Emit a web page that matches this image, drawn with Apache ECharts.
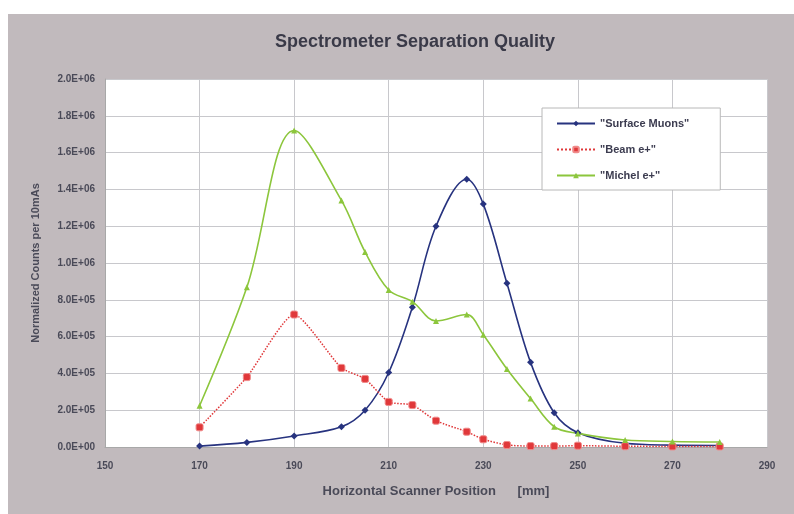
<!DOCTYPE html>
<html>
<head>
<meta charset="utf-8">
<script src="https://cdn.jsdelivr.net/npm/echarts@6/dist/echarts.min.js"></script>
<style>
  html, body { margin: 0; padding: 0; background: #ffffff; }
  #chart { width: 794px; height: 514px; }
</style>
</head>
<body>
<div id="chart"></div>
<script>
// Scanner positions [mm] shared by all three measurements
const positions = [170, 180, 190, 200, 205, 210, 215, 220, 226.5, 230, 235, 240, 245, 250, 260, 270, 280];

// Normalized counts per 10 mAs
const surfaceMuons = [5000, 25000, 60000, 110000, 200000, 405000, 760000, 1200000, 1455000, 1320000, 890000, 460000, 186000, 78000, 20000, 10000, 8000];
const beamPositrons = [107000, 380000, 720000, 430000, 370000, 245000, 228000, 143000, 83000, 42000, 11000, 5000, 5000, 7000, 4000, 3000, 3000];
const michelPositrons = [224000, 868000, 1720000, 1340000, 1060000, 853000, 790000, 685000, 720000, 610000, 424000, 263000, 110000, 74000, 38000, 30000, 27000];

const seriesNames = ['"Surface Muons"', '"Beam e+"', '"Michel e+"'];
const chartTitle = 'Spectrometer Separation Quality';
const xAxisTitle = 'Horizontal Scanner Position      [mm]';
const yAxisTitle = 'Normalized Counts per 10mAs';

const FONT = '"Liberation Sans", Arial, sans-serif';

function pairs(ys) {
  return positions.map((x, i) => [x, ys[i]]);
}

// 2.0E+05 style scientific labels
function sci(v) {
  const s = Number(v).toExponential(1);
  const [m, e] = s.split('e');
  const sign = e[0] === '-' ? '-' : '+';
  const digits = e.replace(/[+-]/, '').padStart(2, '0');
  return m + 'E' + sign + digits;
}

const chart = echarts.init(document.getElementById('chart'), null, { renderer: 'canvas' });

chart.setOption({
  backgroundColor: '#ffffff',
  animation: false,
  graphic: [{
    type: 'rect',
    z: -10,
    silent: true,
    shape: { x: 8, y: 14, width: 786, height: 500 },
    style: { fill: '#c1babd' }
  }],
  title: {
    text: chartTitle,
    left: 270,
    top: 28,
    textStyle: { fontFamily: FONT, fontSize: 18, fontWeight: 'bold', color: '#3a3a48' }
  },
  legend: {
    orient: 'vertical',
    left: 542,
    top: 108,
    padding: [10, 31, 9, 14],
    itemWidth: 38,
    itemHeight: 7,
    itemGap: 15,
    backgroundColor: '#ffffff',
    borderColor: '#b8b8b8',
    borderWidth: 1,
    textStyle: { fontFamily: FONT, fontSize: 11, fontWeight: 'bold', color: '#3c3c50' },
    data: seriesNames
  },
  grid: {
    left: 105,
    right: 27,
    top: 79,
    bottom: 67,
    show: true,
    backgroundColor: '#ffffff',
    borderWidth: 0
  },
  xAxis: {
    type: 'value',
    min: 150,
    max: 290,
    interval: 20,
    name: xAxisTitle,
    nameLocation: 'middle',
    nameGap: 38,
    nameTextStyle: { fontFamily: FONT, fontSize: 13, fontWeight: 'bold', color: '#4a4a58' },
    axisLine: { show: true, lineStyle: { color: '#a8a8a8', width: 1 } },
    axisTick: { show: false },
    axisLabel: { fontFamily: FONT, fontSize: 10, fontWeight: 'bold', color: '#4a4a58', margin: 14 },
    splitLine: { show: true, lineStyle: { color: '#c8c8cc', width: 1 } }
  },
  yAxis: {
    type: 'value',
    min: 0,
    max: 2000000,
    interval: 200000,
    name: yAxisTitle,
    nameLocation: 'middle',
    nameGap: 64,
    nameTextStyle: { fontFamily: FONT, fontSize: 11, fontWeight: 'bold', color: '#4a4a58' },
    axisLine: { show: true, lineStyle: { color: '#a8a8a8', width: 1 } },
    axisTick: { show: false },
    axisLabel: {
      fontFamily: FONT, fontSize: 10, fontWeight: 'bold', color: '#4a4a58', margin: 10,
      formatter: sci
    },
    splitLine: { show: true, lineStyle: { color: '#c8c8cc', width: 1 } }
  },
  series: [
    {
      name: seriesNames[0],
      type: 'line',
      data: pairs(surfaceMuons),
      smooth: 0.35,
      symbol: 'diamond',
      symbolSize: 7,
      lineStyle: { color: '#27337f', width: 1.6 },
      itemStyle: { color: '#27337f' }
    },
    {
      name: seriesNames[1],
      type: 'line',
      data: pairs(beamPositrons),
      smooth: 0.2,
      symbol: 'roundRect',
      symbolSize: 7,
      lineStyle: { color: '#e0383a', width: 1.5, type: 'dotted' },
      itemStyle: { color: '#e0383a', borderColor: '#f08a8a', borderWidth: 1 }
    },
    {
      name: seriesNames[2],
      type: 'line',
      data: pairs(michelPositrons),
      smooth: 0.35,
      symbol: 'triangle',
      symbolSize: 6,
      lineStyle: { color: '#8cc63c', width: 1.6 },
      itemStyle: { color: '#8cc63c' }
    }
  ]
});
</script>
</body>
</html>
